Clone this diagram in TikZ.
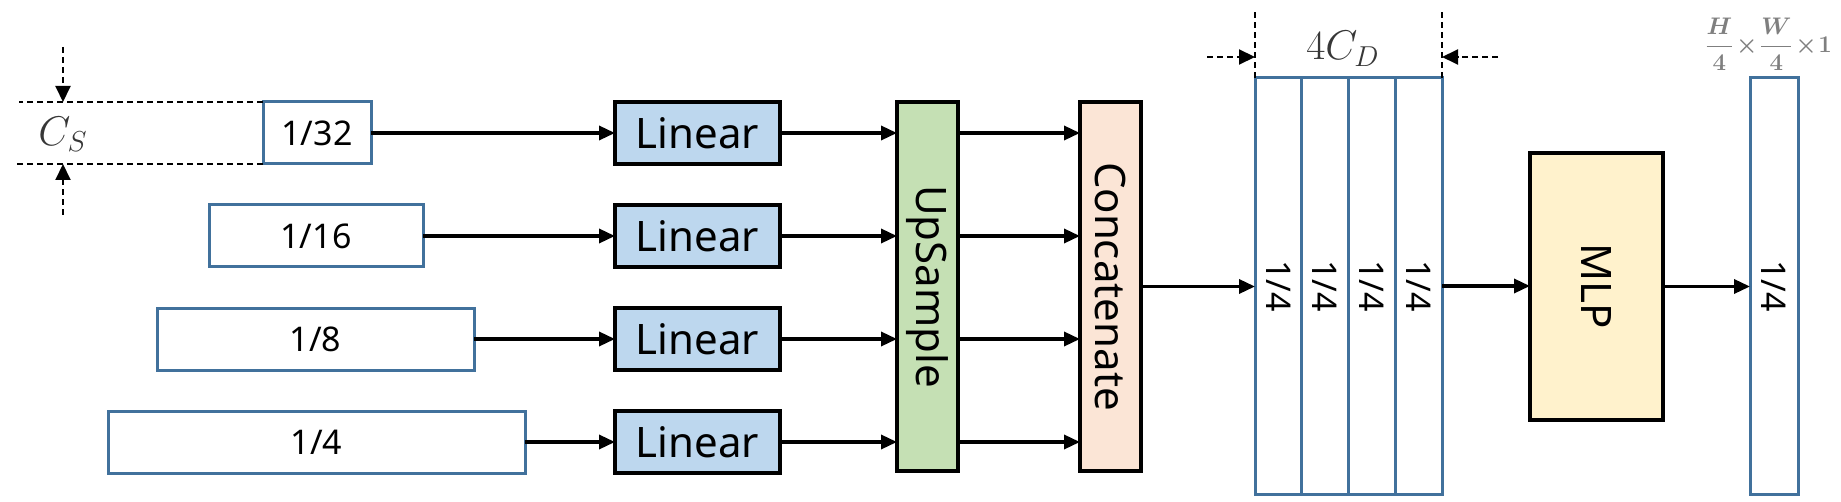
\documentclass[tikz,border=0pt]{standalone}
\usepackage{fontspec}
\usepackage{amsmath}
\usepackage{graphicx}
\newfontfamily\lblfont{Noto Sans}
\usetikzlibrary{arrows.meta}
\definecolor{bordblue}{RGB}{65,113,156}
\definecolor{linfill}{RGB}{189,215,238}
\definecolor{upfill}{RGB}{197,224,180}
\definecolor{catfill}{RGB}{251,229,214}
\definecolor{mlpfill}{RGB}{255,242,204}
\definecolor{dimgray}{RGB}{55,55,55}
\definecolor{sizegray}{RGB}{127,127,127}
\begin{document}
\begin{tikzpicture}[x=0.5pt,y=-0.5pt,
  feat/.style={draw=bordblue,line width=1.5pt,fill=white,inner sep=0pt,outer sep=0pt,minimum height=31pt,font=\lblfont\fontsize{17}{20}\selectfont},
  opbox/.style={draw=black,line width=1.7pt,inner sep=0pt,outer sep=0pt,font=\lblfont\fontsize{21}{25}\selectfont},
  linbox/.style={opbox,fill=linfill,minimum width=82.5pt,minimum height=31pt},
  tallbox/.style={opbox,minimum width=30.5pt,minimum height=184.5pt},
  col/.style={draw=bordblue,line width=1.5pt,fill=white,inner sep=0pt,outer sep=0pt,minimum width=23.4pt,minimum height=208pt,font=\lblfont\fontsize{17}{20}\selectfont},
  flow/.style={line width=1.7pt,-{Triangle[length=8pt,width=7pt]}},
  dimline/.style={line width=1pt,dash pattern=on 3pt off 2pt},
  dimarrow/.style={dimline,-{Triangle[length=8pt,width=7.5pt]}},
  dimlbl/.style={inner sep=0pt,text=dimgray,font=\fontsize{20}{24}\selectfont},
]
\useasboundingbox (0,0) rectangle (1841,502);

% source feature maps
\node[feat,minimum width=54pt] (s32) at (317,133) {1/32};
\node[feat,minimum width=107pt] (s16) at (316,236) {1/16};
\node[feat,minimum width=158.5pt] (s8) at (315.5,339) {1/8};
\node[feat,minimum width=208.5pt] (s4) at (316.5,442) {1/4};

% linear layers
\node[linbox] (l1) at (697.5,133) {Linear};
\node[linbox] (l2) at (697.5,236) {Linear};
\node[linbox] (l3) at (697.5,339) {Linear};
\node[linbox] (l4) at (697.5,442) {Linear};

% upsample & concat
\node[tallbox,fill=upfill] (up) at (927.5,286.5) {\rotatebox{-90}{UpSample}};
\node[tallbox,fill=catfill] (cat) at (1110.5,286.5) {\rotatebox{-90}{Concatenate}};

% concatenated stack
\node[col] (c1) at (1278.4,286) {\rotatebox{-90}{1/4}};
\node[col] (c2) at (1325.1,286) {\rotatebox{-90}{1/4}};
\node[col] (c3) at (1371.9,286) {\rotatebox{-90}{1/4}};
\node[col] (c4) at (1418.6,286) {\rotatebox{-90}{1/4}};

% MLP & output
\node[opbox,fill=mlpfill,minimum width=66.5pt,minimum height=133.5pt] (mlp) at (1596.5,286.5) {\rotatebox{-90}{MLP}};
\node[col,minimum width=24pt] (out) at (1774,286) {\rotatebox{-90}{1/4}};

% connectors
\foreach \s/\l in {s32/l1,s16/l2,s8/l3,s4/l4}{
  \draw[flow] (\s.east) -- (\l.west);
  \draw[flow] (\l.east) -- (\l.east -| up.west);
  \draw[flow] (up.east |- \l.east) -- (cat.west |- \l.east);
}
\draw[flow] (cat.east) -- (cat.east -| c1.west);
\draw[flow] (c4.east) -- (c4.east -| mlp.west);
\draw[flow] (mlp.east) -- (mlp.east -| out.west);

% C_S dimension
\coordinate (csTL) at (19,0);
\coordinate (csBL) at (16,0);
\draw[dimline] (s32.north west) -- (s32.north west -| csTL);
\draw[dimline] (s32.south west) -- (s32.south west -| csBL);
\coordinate (csTop) at (63,47);
\coordinate (csBot) at (63,215);
\draw[dimarrow] (csTop) -- (csTop |- s32.north);
\draw[dimarrow] (csBot) -- (csBot |- s32.south);
\node[dimlbl] (cs) at (63,134) {$C_S$};

% 4C_D dimension
\coordinate (cdT) at (0,10);
\draw[dimline] (c1.north west) -- (c1.north west |- cdT);
\draw[dimline] (c4.north east) -- (c4.north east |- cdT);
\coordinate (cdL) at (1207,57);
\coordinate (cdR) at (1498,57);
\draw[dimarrow] (cdL) -- (cdL -| c1.west);
\draw[dimarrow] (cdR) -- (cdR -| c4.east);
\node[dimlbl,anchor=base] (cd) at (1343,60) {$4C_D$};

% output size
\node[inner sep=0pt,text=sizegray,font=\fontsize{13}{15}\selectfont\boldmath] (sz) at (1768,44) {$\medmuskip=1mu\dfrac{H}{\mathbf{4}}\times\dfrac{W}{\mathbf{4}}\times\mathbf{1}$};
\end{tikzpicture}
\end{document}
